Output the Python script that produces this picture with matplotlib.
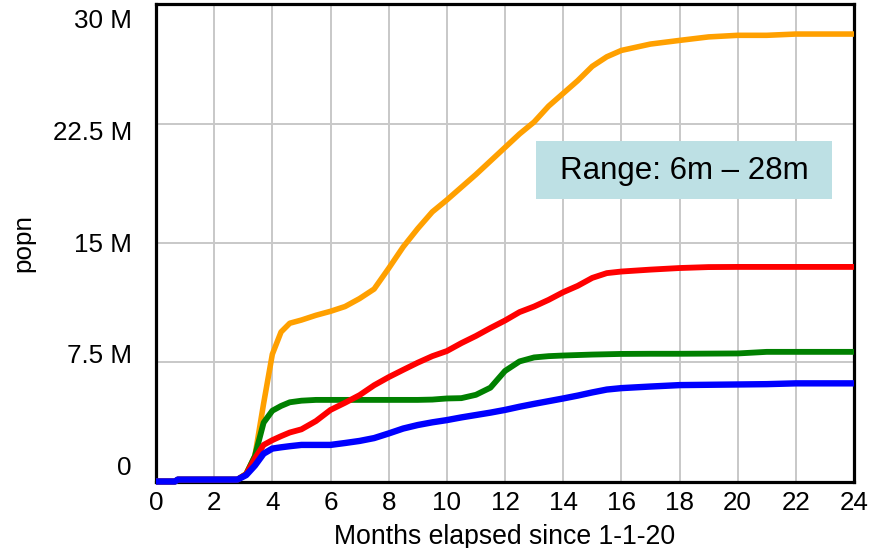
import matplotlib
matplotlib.use("Agg")
import matplotlib.pyplot as plt
from matplotlib.patches import Rectangle
from matplotlib.transforms import ScaledTranslation, blended_transform_factory

plt.rcParams['font.family'] = ['Liberation Sans', 'DejaVu Sans']

# Simulated population by scenario (millions), sampled on a shared month grid
months = [0, 0.65, 0.75, 2.8, 3.1, 3.4, 3.7, 4.0, 4.3, 4.6, 5.0, 5.5, 6.0, 6.5,
          7.0, 7.5, 8.0, 8.5, 9.0, 9.5, 10.0, 10.5, 11.0, 11.5, 12.0, 12.5,
          13.0, 13.5, 14.0, 14.5, 15.0, 15.5, 16.0, 17.0, 18.0, 19.0, 20.0,
          21.0, 22.0, 23.0, 24.0]

popn_orange = [0, 0, 0.12, 0.12, 0.5, 1.6, 4.9, 8.0, 9.4, 9.95, 10.15, 10.45,
               10.7, 11.0, 11.5, 12.1, 13.4, 14.75, 15.9, 16.95, 17.7, 18.5,
               19.3, 20.15, 21.0, 21.85, 22.6, 23.6, 24.4, 25.2, 26.1, 26.7,
               27.1, 27.5, 27.73, 27.95, 28.05, 28.05, 28.13, 28.13, 28.13]

popn_red = [0, 0, 0.12, 0.12, 0.45, 1.45, 2.3, 2.6, 2.85, 3.08, 3.28, 3.8,
            4.5, 4.95, 5.43, 6.05, 6.56, 7.02, 7.47, 7.88, 8.2, 8.7, 9.15,
            9.65, 10.12, 10.65, 11.0, 11.42, 11.9, 12.3, 12.8, 13.1, 13.2,
            13.32, 13.42, 13.48, 13.49, 13.49, 13.49, 13.49, 13.49]

popn_green = [0, 0, 0.12, 0.12, 0.45, 1.6, 3.7, 4.45, 4.75, 4.98, 5.08, 5.13,
              5.13, 5.13, 5.13, 5.13, 5.13, 5.13, 5.13, 5.15, 5.22, 5.24,
              5.45, 5.9, 6.95, 7.55, 7.8, 7.88, 7.92, 7.95, 7.98, 8.0, 8.02,
              8.03, 8.03, 8.04, 8.05, 8.15, 8.15, 8.15, 8.15]

popn_blue = [0, 0, 0.12, 0.12, 0.4, 1.0, 1.75, 2.07, 2.15, 2.22, 2.3, 2.3,
             2.3, 2.42, 2.55, 2.73, 3.02, 3.33, 3.55, 3.72, 3.86, 4.03, 4.18,
             4.33, 4.5, 4.7, 4.88, 5.05, 5.22, 5.4, 5.6, 5.78, 5.87, 5.97,
             6.06, 6.08, 6.1, 6.12, 6.17, 6.17, 6.17]

x_ticks = list(range(0, 25, 2))
y_ticks = [0, 7.5, 15, 22.5, 30]
y_tick_labels = ["0", "7.5 M", "15 M", "22.5 M", "30 M"]
range_note = "Range: 6m \u2013 28m"

W, H = 883, 548
fig = plt.figure(figsize=(W / 100, H / 100), dpi=100)
ax = fig.add_axes([156 / W, (H - 481.5) / H, (854 - 156) / W, (481.5 - 4.3) / H])

ax.set_xlim(0, 24)
ax.set_ylim(0, 30)
ax.set_xticks(x_ticks)
ax.set_yticks(y_ticks)
ax.grid(True, color="#c8c8c8", linewidth=1.4)
ax.set_axisbelow(True)
ax.tick_params(axis="both", length=0)
ax.tick_params(axis="x", labelsize=18.7, pad=7)
ax.set_yticklabels([])
for s in ax.spines.values():
    s.set_linewidth(2.3)
    s.set_color("black")

series = [
    (popn_orange, "#ffa000", 4.0),
    (popn_green, "#008000", 4.2),
    (popn_red, "#ff0000", 4.2),
    (popn_blue, "#0000ff", 4.6),
]
for vals, col, lw in series:
    ax.plot(months, vals, color=col, linewidth=lw, solid_joinstyle="round",
            solid_capstyle="butt", clip_on=False, zorder=3)

# y labels spread evenly between the top and bottom of the axis
ytrans = blended_transform_factory(ax.transAxes, ax.transData)
n = len(y_ticks)
for i, (v, lab) in enumerate(zip(y_ticks, y_tick_labels)):
    nat_px = 481.5 - (481.5 - 4.3) * v / 30
    want_px = 468 - (468 - 21) * i / (n - 1)
    dy = -(want_px - nat_px) / 100
    off = ScaledTranslation(-24 / 100, dy, fig.dpi_scale_trans)
    ax.text(0, v, lab, transform=ytrans + off, ha="right", va="center",
            fontsize=18.7)

ax.set_xlabel("Months elapsed since 1-1-20", fontsize=19.2, labelpad=6)
ax.set_ylabel("popn", fontsize=18.7, labelpad=0)
ax.yaxis.set_label_coords(-0.173, 0.5)

# annotation box
fig.patches.append(Rectangle((536 / W, (H - 199) / H), (832 - 536) / W, 58 / H,
                             transform=fig.transFigure, facecolor="#bde0e4",
                             edgecolor="none", zorder=5))
fig.text(684 / W, (H - 171) / H, range_note, ha="center", va="center",
         fontsize=22.5, zorder=6)

fig.savefig("out.png", dpi=100)
